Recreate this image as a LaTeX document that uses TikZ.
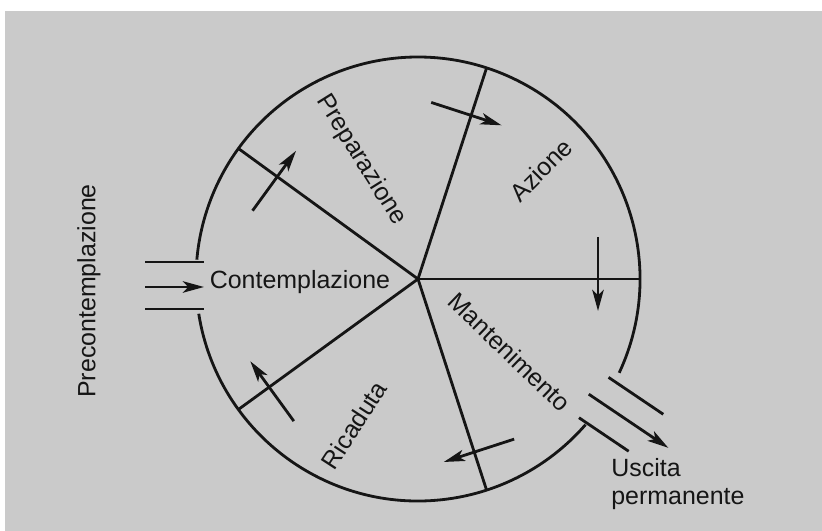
\documentclass[tikz,border=0pt]{standalone}
\usepackage{fontspec}
\setmainfont{Liberation Sans}
\usetikzlibrary{arrows.meta}

\begin{document}
\begin{tikzpicture}[x=0.02cm, y=0.02cm]
    \def\wheelRadius{222}

    \definecolor{paperColour}{HTML}{CACACA}
    \definecolor{inkColour}{HTML}{151515}

    \tikzset{
        ink/.style={draw=inkColour, line width=1.6pt},
        flowarrow/.style={ink, -{Stealth[length=12pt,width=6.5pt,inset=3pt]}},
        stagelabel/.style={text=inkColour, font=\fontsize{14.2}{16}\selectfont, inner sep=0pt},
    }

    % Page and grey paper
    \useasboundingbox (0,0) rectangle (822,531);
    \fill[paperColour] (5,0) rectangle (822,520);

    \coordinate (W) at (418,252);

    % Wheel rim, open for the way in and the way out
    \draw[ink, shift={(W)}] (189:\wheelRadius) arc[start angle=189, end angle=319, radius=\wheelRadius];
    \draw[ink, shift={(W)}] (-25:\wheelRadius) arc[start angle=-25, end angle=175, radius=\wheelRadius];

    % Spokes
    \foreach \a in {0,72,...,288}
        \draw[ink, shift={(W)}] (0,0) -- (\a:\wheelRadius);

    % Arrows across the spokes
    \foreach \a/\r in {0/180, 72/172, 144/174, 216/184, 288/182}
        \draw[flowarrow, shift={(W)}, rotate=\a] (\r,42) -- (\r,-32);

    % Way in from the left
    \draw[ink] (145,269) -- (204,269);
    \draw[ink] (145,222) -- (204,222);
    \draw[flowarrow] (145,244) -- (204,244);

    % Way out at the lower right
    \draw[ink, shift={(W)}, rotate=-34] (213,25) -- (279,25) (211,-25) -- (271,-25);
    \draw[flowarrow, shift={(W)}, rotate=-34] (206,0) -- (302,0);

    % Stage names
    \node[stagelabel] (contempl) at (300,249) {Contemplazione};
    \node[stagelabel, rotate=90] (precont) at (89,240) {Precontemplazione};
    \node[stagelabel, rotate=-58] (prepar) at (361,371) {Preparazione};
    \node[stagelabel, rotate=45] (azione) at (541,361) {Azione};
    \node[stagelabel, rotate=-44] (manten) at (510,179) {Mantenimento};
    \node[stagelabel, rotate=57] (ricad) at (354,106) {Ricaduta};
    \node[stagelabel, anchor=west, align=left] (uscita) at (611,47) {Uscita\\permanente};

\end{tikzpicture}
\end{document}
